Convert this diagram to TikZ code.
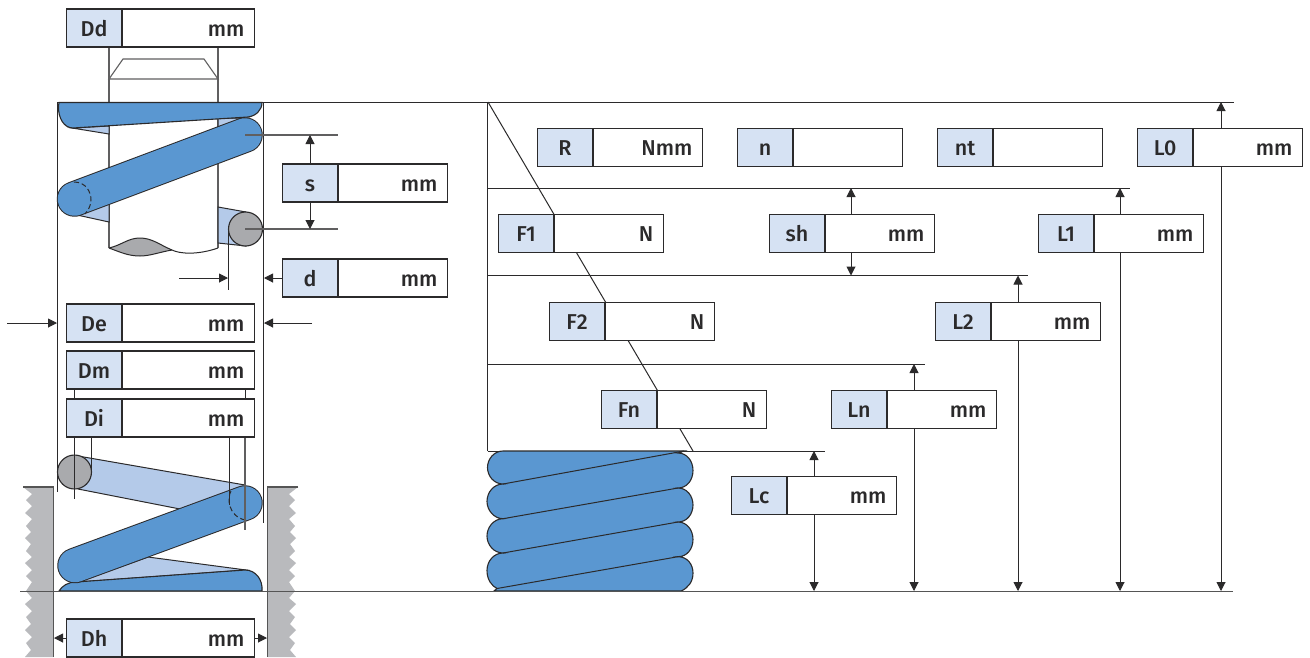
\documentclass[tikz,border=0pt]{standalone}
\usepackage{fontspec}
\setmainfont{Fira Sans}[UprightFont=* Medium]
\usetikzlibrary{arrows.meta}
\definecolor{coil}{HTML}{5A97D1}
\definecolor{backcoil}{HTML}{B4CAE9}
\definecolor{labfill}{HTML}{D6E2F3}
\definecolor{ink}{HTML}{2B2A2B}
\definecolor{wallgrey}{HTML}{B9BABD}
\definecolor{wiregrey}{HTML}{A9AAAD}
\tikzset{
  lab/.style={draw=ink,line width=1.6pt,fill=labfill,minimum width=55.5pt,minimum height=38pt,inner sep=0pt,font=\fontsize{21.5}{21.5}\selectfont,text=ink,anchor=north west,text height=17pt,text depth=0pt},
  val/.style={draw=ink,line width=1.6pt,fill=white,minimum width=109.5pt,minimum height=38pt,inner sep=0pt,font=\fontsize{21.5}{21.5}\selectfont,text=ink,anchor=north west,text height=17pt,text depth=0pt,text width=89.5pt,align=right,xshift=-1.6pt},
  wideval/.style={val,minimum width=132.5pt,text width=112.5pt},
  thin line/.style={draw=ink,line width=1pt},
  grey line/.style={draw=ink!75,line width=1.1pt},
  dim/.style={draw=ink,line width=1pt,-{Triangle[length=9pt,width=9pt]}},
  coilout/.style={draw=ink,line width=1.1pt,fill=coil},
  backout/.style={draw=ink,line width=1pt,fill=backcoil},
  wire/.style={draw=ink,line width=1.1pt,fill=wiregrey},
  wall/.style={fill=wallgrey},
  wallEdge/.style={draw=ink!80,line width=1.1pt},
}
\newcommand{\valuebox}[6][val]{%
  \node[lab] (#2) at (#3,#4) {#5};
  \node[#1] (#2v) at (#2.north east) {#6};
}
\newcommand{\stadium}[2]{%
  \draw[ink,line width=35.5pt,line cap=round] (#1) -- (#2);
  \draw[coil,line width=33.5pt,line cap=round] (#1) -- (#2);
}
\begin{document}
\begin{tikzpicture}[x=1pt,y=-1pt]
\clip (0,0) rectangle (1310,657);
\fill[white] (0,0) rectangle (1310,657);

% walls
\fill[wall] (53.5,487) -- (23,487) -- (32,494) -- (26,500) -- (32,506) -- (25,513) -- (32,519) -- (26,526) -- (31,532) -- (25,538) -- (31,544) -- (26,551) -- (32,557) -- (25,563) -- (32,570) -- (26,576) -- (32,582) -- (26,591) -- (32,598) -- (25,604) -- (32,611) -- (26,617) -- (31,624) -- (25,630) -- (32,637) -- (26,643) -- (31,650) -- (25,657) -- (53.5,657) -- cycle;
\fill[wall] (267.5,487) -- (298,487) -- (289,494) -- (295,500) -- (289,506) -- (296,513) -- (289,519) -- (295,526) -- (290,532) -- (296,538) -- (290,544) -- (295,551) -- (289,557) -- (296,563) -- (289,570) -- (295,576) -- (289,582) -- (295,591) -- (289,598) -- (296,604) -- (289,611) -- (295,617) -- (290,624) -- (296,630) -- (289,637) -- (295,643) -- (290,650) -- (296,657) -- (267.5,657) -- cycle;
\draw[wallEdge] (23,487) -- (53.5,487) -- (53.5,657);
\draw[wallEdge] (298,487) -- (267.5,487) -- (267.5,657);

% named reference points
\coordinate (topL0) at (1221,102);   \coordinate (baseL0) at (1221,591);
\coordinate (topL1) at (1120,188);   \coordinate (baseL1) at (1120,591);
\coordinate (topL2) at (1018,275.5); \coordinate (baseL2) at (1018,591);
\coordinate (topLn) at (914,364);    \coordinate (baseLn) at (914,591);
\coordinate (topLc) at (814,451);    \coordinate (baseLc) at (814,591);
\coordinate (shTop) at (851,188);    \coordinate (shBot) at (851,275.5);
\coordinate (sTop) at (310,135);     \coordinate (sBot) at (310,229);
\coordinate (dL) at (228,278);       \coordinate (dStart) at (179,278);
\coordinate (dR) at (264,278);
\coordinate (DeL) at (57,323);       \coordinate (DeLs) at (7,323);
\coordinate (DeR) at (264,323);      \coordinate (DeRs) at (312,323);
\coordinate (DhL) at (54,638);       \coordinate (DhR) at (267,638);

% frame lines of the right hand part
\draw[thin line] (58,102) -- (1234,102);
\draw[thin line] (487.5,102) -- (487.5,451);
\draw[thin line] (487.5,188) -- (1130,188);
\draw[thin line] (487.5,275.5) -- (1028,275.5);
\draw[thin line] (487.5,364) -- (925,364);
\draw[thin line] (487.5,451) -- (825,451);
\draw[thin line] (488,102) -- (693,451);

% left verticals
\draw[thin line] (57.5,102) -- (57.5,492);
\draw[thin line] (263,102) -- (263,523);

% shaft
\draw[grey line] (109,48) -- (109,248);
\draw[grey line] (218,48) -- (218,248);
\fill[white] (109.6,59) rectangle (217.4,78);
\draw[grey line] (109,79) -- (123,59) -- (204,59) -- (218,79) -- cycle;
\fill[wiregrey] (109,248) .. controls (122,245) and (128,238) .. (140,238) .. controls (152,238) and (160,245) .. (172,250) .. controls (160,252) and (150,256) .. (140,256) .. controls (128,256) and (120,252) .. (109,248) -- cycle;
\draw[ink,line width=1pt] (109,248) .. controls (122,245) and (128,238) .. (140,238) .. controls (152,238) and (160,245) .. (172,250) .. controls (180,254) and (198,255) .. (218,248);
\draw[ink,line width=1pt] (109,248) .. controls (120,252) and (128,256) .. (140,256) .. controls (150,256) and (160,252) .. (172,250);

% upper spring: back parts
\filldraw[backout] (72,128) -- (109,134) -- (109,126) -- cycle;
\filldraw[backout] (218,118) -- (218,127) -- (247,118) -- cycle;
\filldraw[backout] (77,215) -- (109,222) -- (109,204) -- cycle;
\filldraw[backout] (218,207) -- (246,212) -- (246,246) -- (218,243) -- cycle;
\draw[wire] (245.5,229) circle[radius=17];

% upper spring: top coil and slanted coil
\filldraw[coilout] (59,102.5) -- (262,102.5) .. controls (262,110) and (256,116) .. (248,117) -- (73,128) .. controls (64,128) and (58,118) .. (58.5,106) -- cycle;
\stadium{74.5,199}{245,135}
\draw[ink,line width=1pt,dash pattern=on 5pt off 3pt] (74,182) .. controls (86,182) and (91,192) .. (91,200) .. controls (91,206) and (88,210) .. (85,214);

% s and d reference lines
\draw[grey line] (245,135) -- (338,135);
\draw[grey line] (245,229) -- (338,229);
\draw[thin line] (228,229) -- (228,290);

% lower spring
\fill[backcoil] (78,456) -- (245,485) -- (180,509) -- (78,489) -- cycle;
\draw[ink,line width=1pt] (78,456) -- (245,485);
\draw[ink,line width=1pt] (78,489) -- (180,509);
\draw[wire] (74.5,472) circle[radius=17];
\filldraw[backout] (148,557) -- (246,570) -- (78,582) -- cycle;
\filldraw[coilout] (59,591) .. controls (62,586) and (68,582) .. (76,582) -- (245,570) .. controls (256,570) and (263,580) .. (262,591) -- cycle;
\stadium{75,565.5}{245,503}
\draw[ink,line width=1pt,dash pattern=on 5pt off 3pt] (231,491) .. controls (227,498) and (228,516) .. (245,520);

% lower spring vertical lines
\draw[thin line] (74,437) -- (74,499);
\draw[thin line] (91,437) -- (91,473);
\draw[thin line] (229,437) -- (229,505);
\draw[grey line] (245,437) -- (245,530);
\draw[thin line] (74,385) -- (74,400);
\draw[thin line] (245,385) -- (245,400);

% compressed spring
\filldraw[coilout] (503,451) -- (684,451) -- (678,453)
  .. controls (687,453) and (693,461) .. (693,470.5) .. controls (693,480) and (687,488) .. (678,488)
  .. controls (687,488) and (693,496) .. (693,505) .. controls (693,514) and (687,522) .. (678,522)
  .. controls (687,522) and (693,530) .. (693,539.5) .. controls (693,549) and (687,556.7) .. (678,556.7)
  .. controls (687,556.7) and (693,564) .. (693,573) .. controls (693,582) and (688,588) .. (681,591)
  -- (494,591) -- (497,588.5)
  .. controls (492,586) and (487,580) .. (487,570.5) .. controls (487,561) and (494,553) .. (503,553)
  .. controls (494,553) and (487,545) .. (487,536) .. controls (487,527) and (494,518.7) .. (503,518.7)
  .. controls (494,518.7) and (487,510) .. (487,501.5) .. controls (487,492) and (494,484) .. (503,484)
  .. controls (494,484) and (487.5,476) .. (487.5,467.5) .. controls (487.5,459) and (494,451) .. (503,451) -- cycle;
\draw[ink,line width=1pt] (503,484) -- (684,451);
\draw[ink,line width=1pt] (503,518.7) -- (678,488);
\draw[ink,line width=1pt] (503,553) -- (678,522);
\draw[ink,line width=1pt] (497,588.5) -- (678,556.7);

% base line
\draw[thin line,draw=ink!80] (20,591) -- (1233,591);

% boxes
\valuebox[wideval]{Dd}{65.5}{8}{Dd}{mm}
\valuebox[wideval]{De}{65.5}{303}{De}{mm}
\valuebox[wideval]{Dm}{65.5}{350}{Dm}{mm}
\valuebox[wideval]{Di}{65.5}{398}{Di}{mm}
\valuebox[wideval]{Dh}{65.5}{618}{Dh}{mm}
\valuebox{s}{281.5}{163}{s}{mm}
\valuebox{d}{281.5}{258}{d}{mm}
\valuebox{R}{536.5}{127.5}{R}{Nmm}
\valuebox{n}{736.5}{127.5}{n}{}
\valuebox{nt}{936.5}{127.5}{nt}{}
\valuebox{L0}{1136.5}{127.5}{L0}{mm}
\valuebox{F1}{497.5}{213.5}{F1}{N}
\valuebox{sh}{768.5}{213.5}{sh}{mm}
\valuebox{L1}{1037.5}{213.5}{L1}{mm}
\valuebox{F2}{548.5}{301.5}{F2}{N}
\valuebox{L2}{934.5}{301.5}{L2}{mm}
\valuebox{Fn}{600.5}{389.5}{Fn}{N}
\valuebox{Ln}{830.5}{389.5}{Ln}{mm}
\valuebox{Lc}{730.5}{475.5}{Lc}{mm}

% dimension arrows
\draw[dim] (topL0 |- L0v.north) -- (topL0);
\draw[dim] (topL0 |- L0v.south) -- (baseL0);
\draw[dim] (topL1 |- L1v.north) -- (topL1);
\draw[dim] (topL1 |- L1v.south) -- (baseL1);
\draw[dim] (topL2 |- L2v.north) -- (topL2);
\draw[dim] (topL2 |- L2v.south) -- (baseL2);
\draw[dim] (topLn |- Lnv.north) -- (topLn);
\draw[dim] (topLn |- Lnv.south) -- (baseLn);
\draw[dim] (topLc |- Lcv.north) -- (topLc);
\draw[dim] (topLc |- Lcv.south) -- (baseLc);
\draw[dim] (shTop |- shv.north) -- (shTop);
\draw[dim] (shTop |- shv.south) -- (shBot);
\draw[dim] (sTop |- s.north) -- (sTop);
\draw[dim] (sTop |- s.south) -- (sBot);
\draw[dim] (dStart) -- (dL);
\draw[dim] (d.west |- dR) -- (dR);
\draw[dim] (DeLs) -- (DeL);
\draw[dim] (DeRs) -- (DeR);
\draw[dim] (Dh.west |- DhL) -- (DhL);
\draw[dim] (Dhv.east |- DhR) -- (DhR);
\end{tikzpicture}
\end{document}
